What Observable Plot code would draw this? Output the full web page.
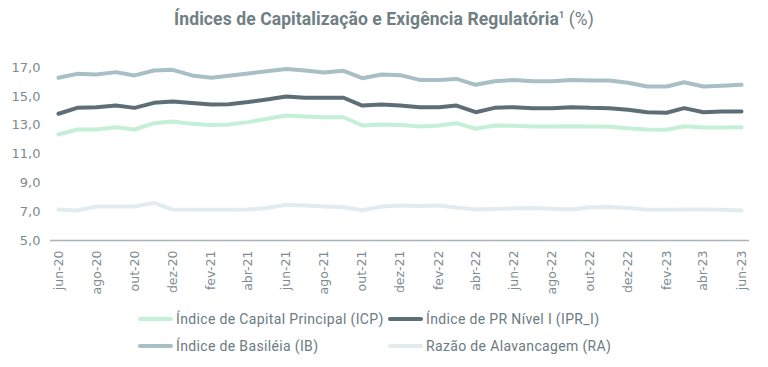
<!DOCTYPE html>
<html>
<head>
<meta charset="utf-8">
<script src="https://cdn.jsdelivr.net/npm/d3@7"></script>
<script src="https://cdn.jsdelivr.net/npm/@observablehq/plot@0.6"></script>
<style>
  html, body { margin: 0; padding: 0; background: #ffffff; }
  #wrap { position: relative; width: 768px; height: 367px; overflow: hidden; }
  #title { position: absolute; top: 9px; left: 0; width: 768px; text-align: center;
    font-family: Roboto, "Liberation Sans", sans-serif; font-weight: 700; font-size: 17.5px; color: #6f8084; letter-spacing: 0.1px; }
  #title sup { font-size: 9px; vertical-align: 7px; }
  #title .pct { font-weight: 400; }
  #chart { position: absolute; top: 40px; left: 0; }
  .leg { position: absolute; font-family: Roboto, "Liberation Sans", sans-serif; font-size: 14px; letter-spacing: 0.35px; color: #6b7b80; display: flex; align-items: center; white-space: nowrap; }
  .leg .sw { width: 35px; height: 4px; margin-right: 3px; border-radius: 2px; }
</style>
</head>
<body>
<div id="wrap">
  <div id="title">Índices de Capitalização e Exigência Regulatória<sup>1</sup> <span class="pct">(%)</span></div>
  <div id="chart"></div>
  <div id="legend"></div>
</div>
<script>
// Months: jun-20 .. jun-23
const monthNames = ["jan","fev","mar","abr","mai","jun","jul","ago","set","out","nov","dez"];
const start = new Date(Date.UTC(2020, 5, 1));
const end = new Date(Date.UTC(2023, 5, 1));
const months = d3.utcMonth.range(start, d3.utcMonth.offset(end, 1));

const seriesNames = [
  "Índice de Capital Principal (ICP)",
  "Índice de PR Nível I (IPR_I)",
  "Índice de Basiléia (IB)",
  "Razão de Alavancagem (RA)"
];
const seriesColors = ["#c4f0d7", "#5e6e77", "#a8bfc6", "#e4ebef"];

const icp = [12.35,12.70,12.70,12.86,12.70,13.14,13.26,13.09,13.02,13.04,
             13.21,13.44,13.67,13.60,13.55,13.55,12.98,13.05,13.02,12.91,
             12.98,13.14,12.75,12.98,12.96,12.91,12.91,12.93,12.91,12.89,
             12.79,12.70,12.68,12.93,12.84,12.84,12.86];
const ipr = [13.79,14.20,14.25,14.36,14.20,14.55,14.64,14.53,14.43,14.45,
             14.60,14.78,14.99,14.90,14.90,14.90,14.36,14.43,14.36,14.25,
             14.25,14.36,13.90,14.20,14.25,14.18,14.18,14.25,14.20,14.18,
             14.07,13.90,13.86,14.18,13.90,13.95,13.95];
const ib  = [16.29,16.56,16.51,16.68,16.45,16.79,16.84,16.45,16.29,16.42,
             16.58,16.74,16.90,16.79,16.65,16.77,16.26,16.51,16.47,16.14,
             16.14,16.21,15.80,16.05,16.14,16.05,16.05,16.14,16.10,16.10,
             15.94,15.68,15.68,15.98,15.68,15.73,15.80];
const ra  = [7.15,7.08,7.36,7.36,7.36,7.61,7.15,7.13,7.13,7.13,
             7.15,7.25,7.48,7.43,7.36,7.31,7.10,7.36,7.43,7.40,
             7.43,7.29,7.15,7.18,7.24,7.25,7.20,7.15,7.31,7.33,
             7.25,7.13,7.13,7.15,7.15,7.13,7.08];

const yTicks = [5, 7, 9, 11, 13, 15, 17];
const xTicks = months.filter((d, i) => i % 2 === 0);

const allSeries = [icp, ipr, ib, ra];
const rows = [];
allSeries.forEach((vals, s) => vals.forEach((v, i) => rows.push({date: months[i], value: v, series: seriesNames[s]})));
const drawOrder = [3, 2, 0, 1];

const fmtX = d => monthNames[d.getUTCMonth()] + "-" + String(d.getUTCFullYear()).slice(2);
const fmtY = d => d.toFixed(1).replace(".", ",");

const chart = Plot.plot({
  width: 768,
  height: 270,
  marginTop: 27,
  marginBottom: 70,
  marginLeft: 50,
  marginRight: 19,
  style: { fontFamily: "'DejaVu Sans', sans-serif", background: "transparent" },
  x: { type: "utc", domain: [start, end], insetLeft: 8, insetRight: 8 },
  y: { domain: [5, 17] },
  marks: [
    Plot.axisY(yTicks, { tickSize: 0, tickPadding: 10, tickFormat: fmtY, fontSize: 13, fill: "#7d8a90", label: null }),
    Plot.axisX(xTicks, { tickSize: 0, tickPadding: 10, tickRotate: -90, tickFormat: fmtX, fontSize: 12.5, fill: "#7d8a90", label: null }),
    Plot.ruleY([5], { stroke: "#a9b4b9", strokeWidth: 1.5 }),
    ...drawOrder.map(s => Plot.lineY(rows.filter(r => r.series === seriesNames[s]), {
      x: "date", y: "value", stroke: seriesColors[s], strokeWidth: 4, strokeLinejoin: "round", strokeLinecap: "round"
    }))
  ]
});
document.getElementById("chart").appendChild(chart);

// Legend
const legPos = [
  {left: 138, top: 311},
  {left: 388, top: 311},
  {left: 138, top: 338},
  {left: 388, top: 338}
];
const legend = document.getElementById("legend");
seriesNames.forEach((name, i) => {
  const el = document.createElement("div");
  el.className = "leg";
  el.style.left = legPos[i].left + "px";
  el.style.top = legPos[i].top + "px";
  const sw = document.createElement("span");
  sw.className = "sw";
  sw.style.background = seriesColors[i];
  const tx = document.createElement("span");
  tx.textContent = name;
  el.appendChild(sw);
  el.appendChild(tx);
  legend.appendChild(el);
});
</script>
</body>
</html>
